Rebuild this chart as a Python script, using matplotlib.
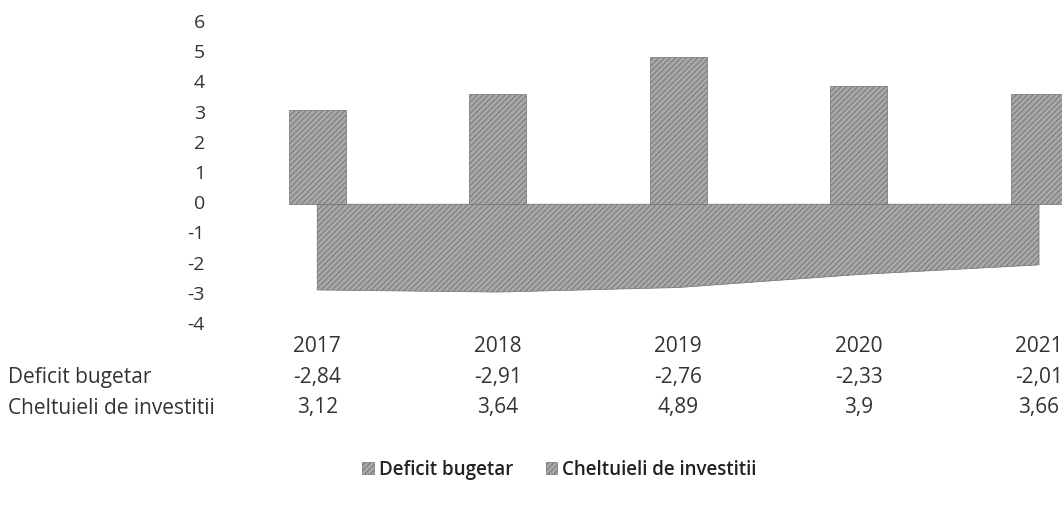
import matplotlib.pyplot as plt
import matplotlib.transforms as mtransforms

years = ['2017', '2018', '2019', '2020', '2021']
deficit = [-2.84, -2.91, -2.76, -2.33, -2.01]
investitii = [3.12, 3.64, 4.89, 3.9, 3.66]
yticks = list(range(-4, 7))
row_labels = ['Deficit bugetar', 'Cheltuieli de investitii']

plt.rcParams['font.family'] = ['Open Sans', 'DejaVu Sans']
plt.rcParams['hatch.linewidth'] = 0.6
txt = '#333333'
fs = 15

def fmt(v):
    return ('%g' % v).replace('.', ',')

fig = plt.figure(figsize=(10.62, 5.09), dpi=100)
ax = fig.add_axes([227 / 1062, 1 - 325 / 509, 1 - 227 / 1062, 302 / 509])

x = list(range(len(years)))
area = ax.fill_between(x, deficit, 0, facecolor='#a8a8a8', edgecolor='#707070',
                       hatch='//////', linewidth=0.5, label='Deficit bugetar')
bars = ax.bar(x, investitii, width=0.315, facecolor='#a8a8a8', edgecolor='#707070',
              hatch='//////', linewidth=0.5, label='Cheltuieli de investitii')

ax.set_xlim(-0.5, (1062 - 317) / 180.5)
ax.set_ylim(-4, 6)
ax.set_xticks([])
ax.set_yticks([])
for s in ax.spines.values():
    s.set_visible(False)

# y tick labels
ytr = mtransforms.blended_transform_factory(fig.transFigure, ax.transData)
for t in yticks:
    fig.text(205 / 1062, t, str(t), transform=ytr, ha='right', va='center',
             fontsize=fs - 1, color=txt)

# data table under the plot
xtr = mtransforms.blended_transform_factory(ax.transData, fig.transFigure)
rows_y = [1 - 347 / 509, 1 - 378 / 509, 1 - 408 / 509]
for i, yr in enumerate(years):
    fig.text(i, rows_y[0], yr, transform=xtr, ha='center', va='center', fontsize=fs, color=txt)
    fig.text(i, rows_y[1], fmt(deficit[i]), transform=xtr, ha='center', va='center', fontsize=fs, color=txt)
    fig.text(i, rows_y[2], fmt(investitii[i]), transform=xtr, ha='center', va='center', fontsize=fs, color=txt)
for lab, yy in zip(row_labels, rows_y[1:]):
    fig.text(8 / 1062, yy, lab, ha='left', va='center', fontsize=fs, color=txt)

fig.legend(handles=[area, bars], loc='center', bbox_to_anchor=(0.527, 1 - 470 / 509),
           ncol=2, frameon=False, handlelength=0.6, handleheight=0.6,
           handletextpad=0.3, columnspacing=1.7,
           prop={'size': 13.5, 'weight': 'semibold'}, labelcolor='#222222')

fig.savefig('out.png', dpi=100)
